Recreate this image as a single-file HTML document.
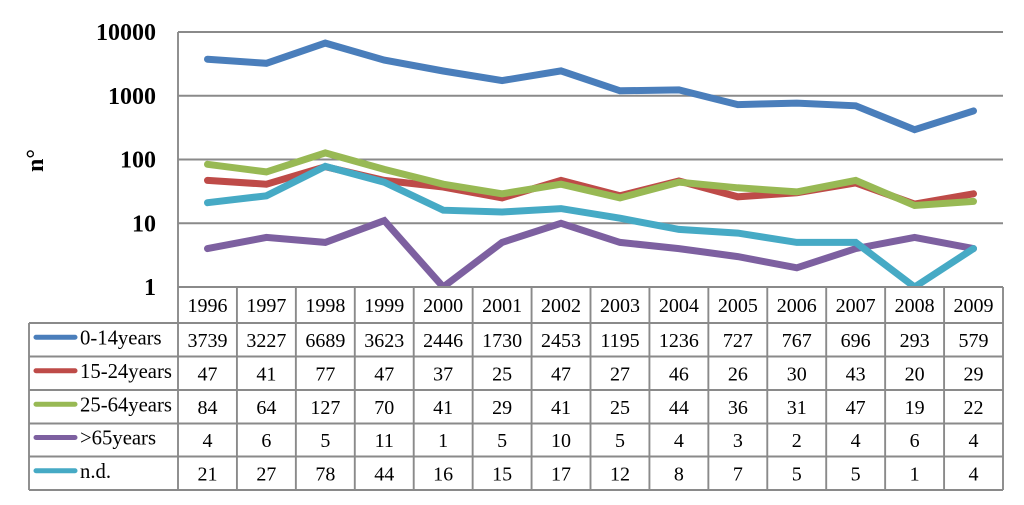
<!DOCTYPE html>
<html>
<head>
<meta charset="utf-8">
<title>Cases by age group, 1996-2009</title>
<style>
html,body{margin:0;padding:0;background:#fff;width:1024px;height:505px;overflow:hidden}
svg{display:block;filter:blur(0.35px)}
text{font-family:"Liberation Serif",serif;fill:#000}
</style>
</head>
<body>
<svg id="chart" xmlns="http://www.w3.org/2000/svg" width="1024" height="505" viewBox="0 0 1024 505"></svg>
<script>
var years = [1996,1997,1998,1999,2000,2001,2002,2003,2004,2005,2006,2007,2008,2009];
var tickValues = [1,10,100,1000,10000];
var seriesNames = ["0-14years","15-24years","25-64years",">65years","n.d."];
var seriesColors = ["#4a7ebb","#be4b48","#98b954","#7d60a0","#46aac5"];
var ages0to14 = [3739,3227,6689,3623,2446,1730,2453,1195,1236,727,767,696,293,579];
var ages15to24 = [47,41,77,47,37,25,47,27,46,26,30,43,20,29];
var ages25to64 = [84,64,127,70,41,29,41,25,44,36,31,47,19,22];
var agesOver65 = [4,6,5,11,1,5,10,5,4,3,2,4,6,4];
var agesUnknown = [21,27,78,44,16,15,17,12,8,7,5,5,1,4];
var seriesValues = [ages0to14,ages15to24,ages25to64,agesOver65,agesUnknown];

var svg = document.getElementById('chart');
var NS = 'http://www.w3.org/2000/svg';
var plotL = 178, plotR = 1003, plotT = 32, plotB = 287;
var tableL = 29;
var rowLines = [287,323,356.5,390,423.5,456.5,490];
var gridColor = '#8a8a8a';
var colW = (plotR - plotL) / years.length;

function xScale(i){ return plotL + colW * (i + 0.5); }
function yScale(v){
  var top = Math.log10(tickValues[tickValues.length-1]);
  var bot = Math.log10(tickValues[0]);
  return plotB - (Math.log10(v) - bot) / (top - bot) * (plotB - plotT);
}
function make(tag, attrs, parent){
  var el = document.createElementNS(NS, tag);
  for (var k in attrs) el.setAttribute(k, attrs[k]);
  (parent || svg).appendChild(el);
  return el;
}
function segment(x1, y1, x2, y2, parent){
  var el = make('line', {x1:x1, y1:y1, x2:x2, y2:y2, stroke:gridColor, 'stroke-width':1.9}, parent);
  return el;
}

/* gridlines and y axis */
var gridGroup = make('g', {});


tickValues.forEach(function(t){
  var line = segment(plotL, yScale(t), plotR, yScale(t), gridGroup);
  
  
  var label = make('text', {x:156, y:yScale(t) + 8, 'text-anchor':'end', 'font-size':24, 'font-weight':'bold'});
  label.textContent = t;
  
  
});
var axisLine = segment(plotL, plotT, plotL, plotB, gridGroup);



var yTitle = make('text', {transform:'translate(43,172) rotate(-90)', 'font-size':24, 'font-weight':'bold'});
yTitle.textContent = 'n°';



/* series lines */
seriesValues.forEach(function(vals, s){
  var pts = vals.map(function(v, i){ return xScale(i).toFixed(1) + ',' + yScale(v).toFixed(1); }).join(' ');
  var line = make('polyline', {points:pts, fill:'none', stroke:seriesColors[s], 'stroke-width':7, 'stroke-linejoin':'miter', 'stroke-linecap':'round'});
  
  
});

/* data table */
var tableGroup = make('g', {});


var tableBg = make('rect', {x:plotL, y:plotB, width:plotR - plotL, height:rowLines[6] - plotB, fill:'#fff'}, tableGroup);


rowLines.forEach(function(y, r){
  var rule = segment(r === 0 ? plotL : tableL, y, plotR, y, tableGroup);
  
  
});
for (var c = 0; c <= years.length; c++) {
  var colRule = segment(plotL + colW * c, plotB, plotL + colW * c, rowLines[6], tableGroup);
  
  
}
var leftRule = segment(tableL, rowLines[1], tableL, rowLines[6], tableGroup);



years.forEach(function(yr, i){
  var t = make('text', {x:xScale(i), y:312, 'text-anchor':'middle', 'font-size':20}, tableGroup);
  t.textContent = yr;
  
  
});

seriesValues.forEach(function(vals, s){
  var rowMid = (rowLines[s+1] + rowLines[s+2]) / 2;
  var swatch = make('line', {x1:36, y1:rowMid - 2.5, x2:75, y2:rowMid - 2.5, stroke:seriesColors[s], 'stroke-width':5, 'stroke-linecap':'round'}, tableGroup);
  
  
  var name = make('text', {x:80, y:rowMid + 4.5, 'font-size':20.7}, tableGroup);
  name.textContent = seriesNames[s];
  
  
  vals.forEach(function(v, i){
    var cell = make('text', {x:xScale(i), y:rowMid + 7, 'text-anchor':'middle', 'font-size':20}, tableGroup);
    cell.textContent = v;
    
    
  });
});
</script>
</body>
</html>
